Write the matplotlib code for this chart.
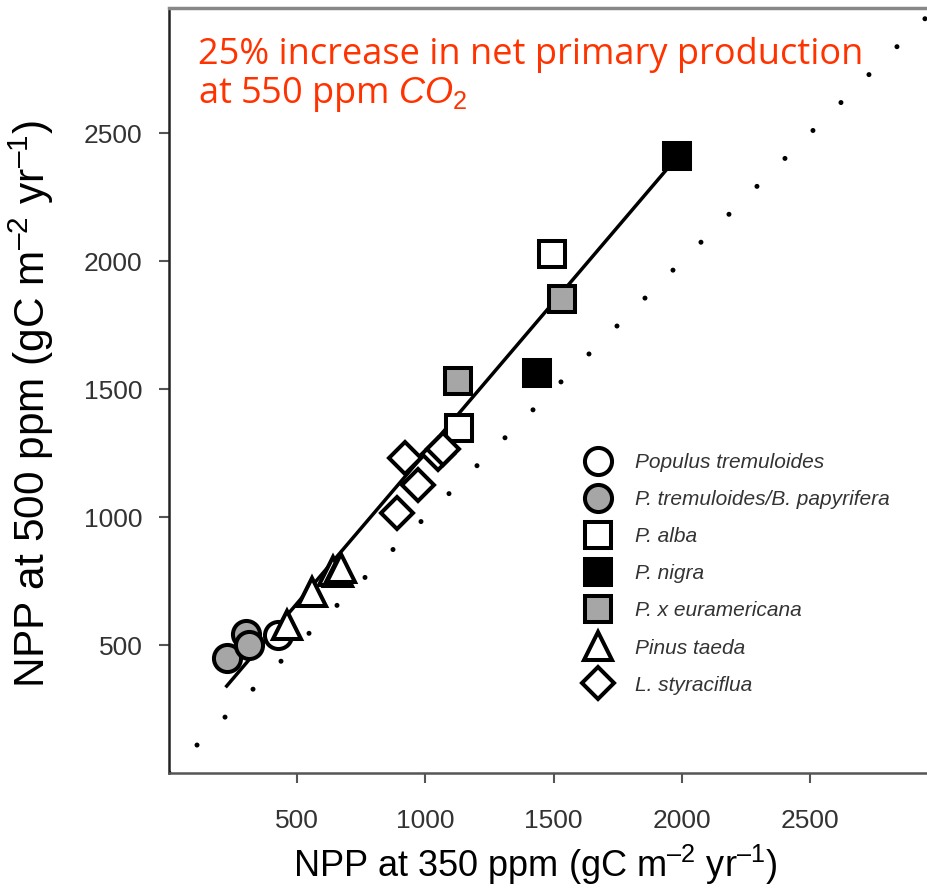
import matplotlib
matplotlib.use("Agg")
import matplotlib.pyplot as plt
from matplotlib.lines import Line2D

plt.rcParams['font.family'] = ['Liberation Sans', 'DejaVu Sans']
plt.rcParams['mathtext.fontset'] = 'custom'
plt.rcParams['mathtext.rm'] = 'Liberation Sans'
plt.rcParams['mathtext.it'] = 'Liberation Sans:italic'

# ---- data (NPP at 350 ppm, NPP at 500 ppm) ----
species = ["Populus tremuloides", "P. tremuloides/B. papyrifera", "P. alba",
           "P. nigra", "P. x euramericana", "Pinus taeda", "L. styraciflua"]

pop_trem_x = [426]
pop_trem_y = [539]
trem_pap_x = [225, 300, 313]
trem_pap_y = [450, 545, 500]
alba_x = [1130, 1492]
alba_y = [1350, 2029]
nigra_x = [1436, 1980]
nigra_y = [1564, 2413]
eura_x = [1128, 1531]
eura_y = [1534, 1853]
pinus_x = [459, 557, 640, 660, 672]
pinus_y = [578, 708, 790, 785, 800]
liq_x = [888, 972, 920, 1050, 1070]
liq_y = [1015, 1125, 1230, 1245, 1265]

fit_x = [225, 1985]
fit_y = [340, 2411]
ref_x = [0, 3000]
ref_y = [0, 3000]

xticks = [500, 1000, 1500, 2000, 2500]
yticks = [500, 1000, 1500, 2000, 2500]

GRAY = '#a6a6a6'
styles = [
    dict(marker='o', mfc='white', ms=19.5),
    dict(marker='o', mfc=GRAY, ms=19.5),
    dict(marker='s', mfc='white', ms=18.5),
    dict(marker='s', mfc='black', ms=18.5),
    dict(marker='s', mfc=GRAY, ms=18.5),
    dict(marker='^', mfc='white', ms=20),
    dict(marker='D', mfc='white', ms=16.5),
]
series = [(pop_trem_x, pop_trem_y), (trem_pap_x, trem_pap_y), (alba_x, alba_y),
          (nigra_x, nigra_y), (eura_x, eura_y), (pinus_x, pinus_y), (liq_x, liq_y)]

fig = plt.figure(figsize=(9.27, 8.92), dpi=100)
ax = fig.add_axes([169/927, 1-773/892, 1-169/927, (773-8)/892])
ax.set_xlim(0, 2956)
ax.set_ylim(0, 2990)

# 1:1 dotted reference line
ax.plot(ref_x, ref_y, color='black', lw=3.6, ls=(0, (0.01, 7.9)),
        dash_capstyle='round', zorder=1, clip_on=True)
# regression line
ax.plot(fit_x, fit_y, color='black', lw=2.5, zorder=2)

handles = []
for (xs, ys), st, name in zip(series, styles, species):
    ax.plot(xs, ys, ls='none', marker=st['marker'], mfc=st['mfc'], ms=st['ms'],
            mec='black', mew=2.9, zorder=3)
    handles.append(Line2D([], [], ls='none', marker=st['marker'], mfc=st['mfc'],
                          ms=st['ms'], mec='black', mew=2.9, label=name))

leg = ax.legend(handles=handles, loc='upper left', bbox_to_anchor=(581/927, 1-453/892),
                bbox_transform=fig.transFigure, frameon=False, handlelength=1.6,
                handletextpad=1.0, labelspacing=0.87, borderpad=0, borderaxespad=0,
                prop=dict(family='Liberation Sans', style='italic', size=15))
for t in leg.get_texts():
    t.set_color('#333333')

ax.set_xticks(xticks)
ax.set_yticks(yticks)
ax.tick_params(direction='out', length=7, width=1.5, color='#555555',
               labelsize=19, labelcolor='#333333')
ax.tick_params(axis='x', pad=19)
ax.tick_params(axis='y', pad=12)
ax.spines['right'].set_visible(False)
ax.spines['top'].set_color('#888888')
ax.spines['top'].set_linewidth(2.5)
ax.spines['left'].set_linewidth(1.8)
ax.spines['left'].set_color('#222222')
ax.spines['bottom'].set_linewidth(1.8)
ax.spines['bottom'].set_color('#555555')

ax.set_xlabel('NPP at 350 ppm (gC m$^{\u2013 2}$ yr$^{\u2013 1}$)', fontsize=26)
ax.set_ylabel('NPP at 500 ppm (gC m$^{\u2013 2}$ yr$^{\u2013 1}$)', fontsize=30.5)
ax.xaxis.set_label_coords((535-169)/758, (773-843)/765)
ax.yaxis.set_label_coords((56-169)/758, (773-404)/765)

fig.text(198/927, 1-64/892, '25% increase in net primary production',
         color='#ff3300', fontsize=26, family='Open Sans', va='baseline')
fig.text(198/927, 1-103/892, 'at 550 ppm $CO_2$',
         color='#ff3300', fontsize=26, family='Open Sans', va='baseline')

fig.savefig('out.png', dpi=100)
